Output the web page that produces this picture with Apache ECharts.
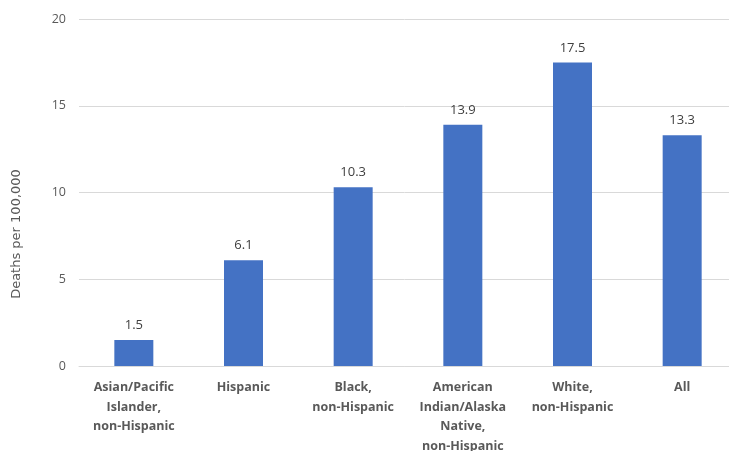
<!DOCTYPE html>
<html><head><meta charset="utf-8">
<script src="https://cdn.jsdelivr.net/npm/echarts@6/dist/echarts.min.js"></script>
<style>html,body{margin:0;padding:0;background:#fff}#c{width:729px;height:451px}</style>
</head><body><div id="c"></div>
<script>
const categories = ["Asian/Pacific\nIslander,\nnon-Hispanic", "Hispanic", "Black,\nnon-Hispanic", "American\nIndian/Alaska\nNative,\nnon-Hispanic", "White,\nnon-Hispanic", "All"];
const values = [1.5, 6.1, 10.3, 13.9, 17.5, 13.3];
const yTicks = {min: 0, max: 20, interval: 5};
const yTitle = "Deaths per 100,000";

const chart = echarts.init(document.getElementById('c'));
chart.setOption({
  animation: false,
  grid: {left: 79, right: -8, top: 19, bottom: 85, outerBoundsMode: 'none', containLabel: false},
  graphic: [{
    type: 'text', x: 17, y: 234, rotation: Math.PI / 2,
    style: {text: yTitle, fill: '#595959', font: '13px "DejaVu Sans"', align: 'center', verticalAlign: 'middle'}
  }],
  xAxis: {
    type: 'category', data: categories,
    axisLine: {lineStyle: {color: '#d9d9d9', width: 1}},
    axisTick: {show: false},
    axisLabel: {color: '#595959', fontFamily: 'Open Sans', fontWeight: 'bold', fontSize: 12.5, lineHeight: 19.5, margin: 12, interval: 0}
  },
  yAxis: {
    type: 'value', min: yTicks.min, max: yTicks.max, interval: yTicks.interval,
    axisLine: {show: false}, axisTick: {show: false},
    axisLabel: {color: '#595959', fontFamily: 'Open Sans', fontSize: 12.5, margin: 13},
    splitLine: {lineStyle: {color: '#d9d9d9', width: 1}}
  },
  series: [{
    type: 'bar', data: values, barWidth: 39,
    itemStyle: {color: '#4472C4'},
    label: {show: true, position: 'top', distance: 8, color: '#404040', fontFamily: 'Open Sans', fontSize: 13,
      formatter: p => p.value.toFixed(1)}
  }]
});
</script></body></html>
